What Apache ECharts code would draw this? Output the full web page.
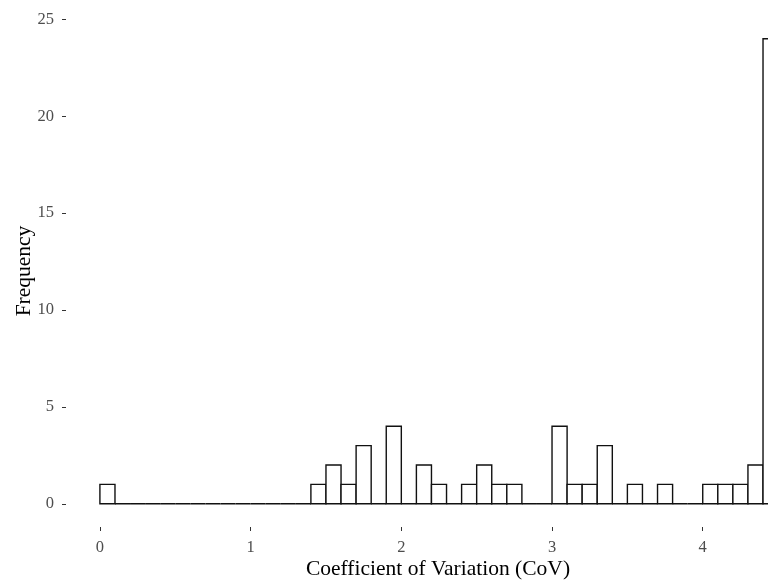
<!DOCTYPE html>
<html>
<head>
<meta charset="utf-8">
<script src="https://cdn.jsdelivr.net/npm/echarts@6/dist/echarts.min.js"></script>
<style>
  html, body { margin: 0; padding: 0; background: #fff; }
  #chart { width: 768px; height: 584px; }
</style>
</head>
<body>
<div id="chart"></div>
<script>
// Histogram bins (left edges), bin width 0.1
const binStarts = [0.0, 0.1, 0.2, 0.3, 0.4, 0.5, 0.6, 0.7, 0.8, 0.9,
                   1.0, 1.1, 1.2, 1.3, 1.4, 1.5, 1.6, 1.7, 1.8, 1.9,
                   2.0, 2.1, 2.2, 2.3, 2.4, 2.5, 2.6, 2.7, 2.8, 2.9,
                   3.0, 3.1, 3.2, 3.3, 3.4, 3.5, 3.6, 3.7, 3.8, 3.9,
                   4.0, 4.1, 4.2, 4.3, 4.4];
const binWidth = 0.1;
const counts = [1, 0, 0, 0, 0, 0, 0, 0, 0, 0,
                0, 0, 0, 0, 1, 2, 1, 3, 0, 4,
                0, 2, 1, 0, 1, 2, 1, 1, 0, 0,
                4, 1, 1, 3, 0, 1, 0, 1, 0, 0,
                1, 1, 1, 2, 24];
const xTicks = [0, 1, 2, 3, 4];
const yTicks = [0, 5, 10, 15, 20, 25];
const xTitle = 'Coefficient of Variation (CoV)';
const yTitle = 'Frequency';

const data = binStarts.map((s, i) => [s, +(s + binWidth).toFixed(2), counts[i]]);

const chart = echarts.init(document.getElementById('chart'), null, { renderer: 'canvas' });
const serif = '"Liberation Serif", "Times New Roman", serif';

chart.setOption({
  animation: false,
  backgroundColor: '#ffffff',
  grid: { left: 66, top: 15.5, width: 746, bottom: 57, containLabel: false,
          outerBoundsMode: 'none' },
  xAxis: {
    type: 'value',
    min: -0.225,
    max: 4.725,
    axisLine: { show: false, onZero: false },
    splitLine: { show: false },
    axisTick: { show: true, length: 4, customValues: xTicks,
                lineStyle: { color: '#333333', width: 1 } },
    axisLabel: {
      show: true, margin: 12.5, fontFamily: serif, fontSize: 16.5, color: '#4d4d4d',
      customValues: xTicks
    }
  },
  yAxis: {
    type: 'value',
    min: -1.2,
    max: 25.2,
    axisLine: { show: false, onZero: false },
    splitLine: { show: false },
    axisTick: { show: true, length: 4, customValues: yTicks,
                lineStyle: { color: '#333333', width: 1 } },
    axisLabel: {
      show: true, margin: 12, fontFamily: serif, fontSize: 16.5, color: '#4d4d4d',
      customValues: yTicks
    }
  },
  series: [{
    type: 'custom',
    clip: false,
    data: data,
    encode: { x: [0, 1], y: 2 },
    renderItem: function (params, api) {
      const x0 = api.value(0), x1 = api.value(1), v = api.value(2);
      const pTop = api.coord([x0, v]);
      const pBot = api.coord([x1, 0]);
      return {
        type: 'rect',
        shape: { x: pTop[0], y: pTop[1], width: pBot[0] - pTop[0], height: pBot[1] - pTop[1] },
        style: { fill: '#ffffff', stroke: '#111111', lineWidth: 1.4 }
      };
    }
  }],
  graphic: [
    {
      type: 'text', x: 438, y: 569,
      style: { text: xTitle, fontFamily: serif, fontSize: 21.5, fill: '#000000',
               align: 'center', verticalAlign: 'middle' }
    },
    {
      type: 'text', x: 24, y: 271, rotation: Math.PI / 2,
      style: { text: yTitle, fontFamily: serif, fontSize: 21.5, fill: '#000000',
               align: 'center', verticalAlign: 'middle' }
    }
  ]
});
</script>
</body>
</html>
